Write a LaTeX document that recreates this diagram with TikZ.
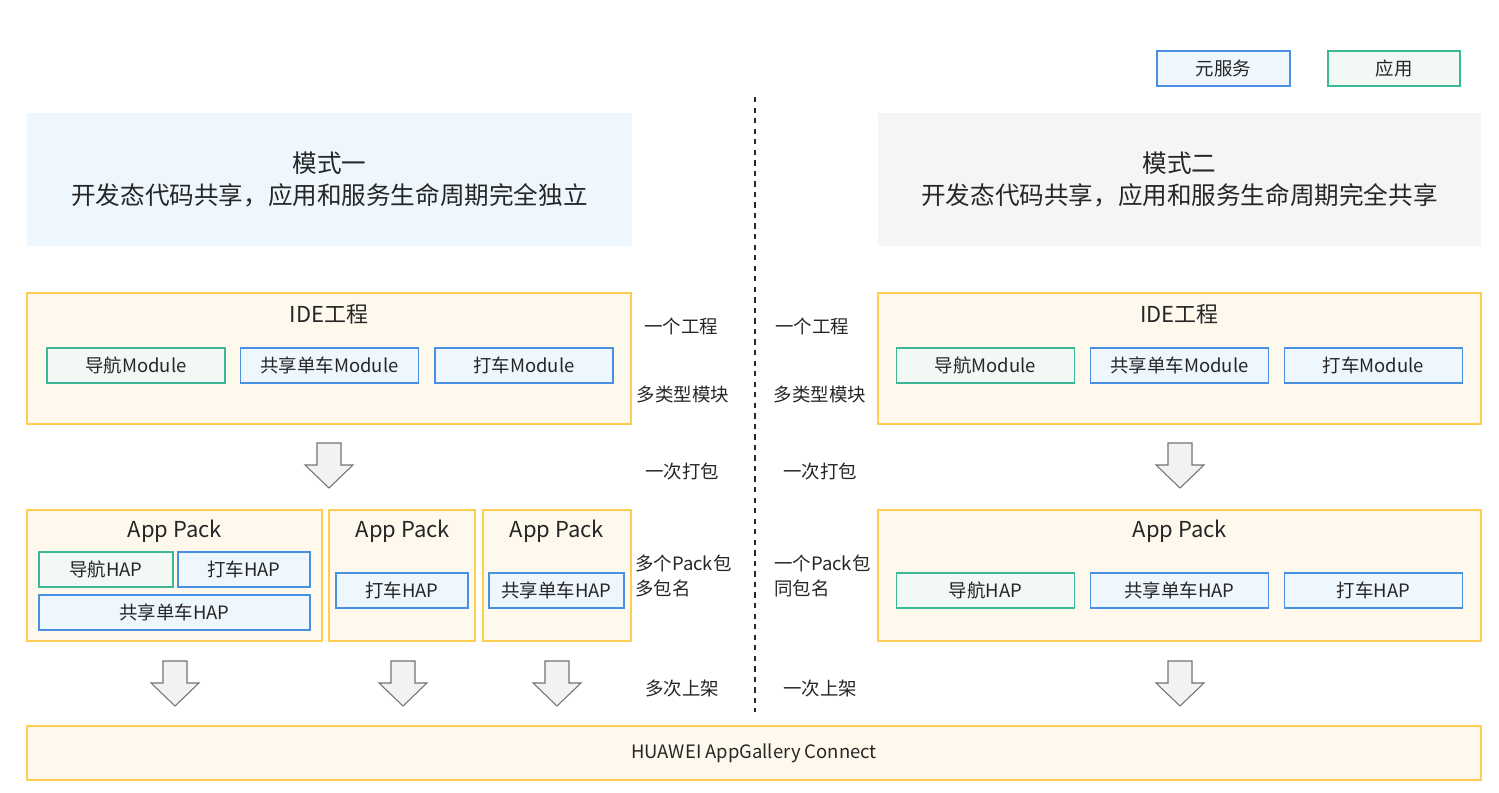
\documentclass[tikz,border=0pt]{standalone}
\usepackage{fontspec}
\setmainfont{Noto Sans CJK SC}
\usetikzlibrary{positioning, calc}
\definecolor{packline}{RGB}{255,206,80}
\definecolor{packfill}{RGB}{255,249,237}
\definecolor{svcline}{RGB}{74,144,226}
\definecolor{svcfill}{RGB}{239,247,254}
\definecolor{appline}{RGB}{60,184,150}
\definecolor{appfill}{RGB}{242,249,245}
\definecolor{headblue}{RGB}{238,247,253}
\definecolor{headgray}{RGB}{245,245,245}
\definecolor{txtgray}{RGB}{38,38,38}
\tikzset{
  every node/.style={text=txtgray},
  packbox/.style={draw=packline, fill=packfill, line width=0.9pt, minimum height=2.62cm, inner sep=0pt},
  svcbox/.style={draw=svcline, fill=svcfill, line width=0.8pt, minimum height=0.7cm, inner sep=0pt, font=\fontsize{10.5}{12}\selectfont},
  appbox/.style={draw=appline, fill=appfill, line width=0.8pt, minimum height=0.7cm, inner sep=0pt, font=\fontsize{10.5}{12}\selectfont},
  headbox/.style={minimum height=2.66cm, inner sep=0pt, align=center, font=\fontsize{14}{18}\selectfont},
  boxtitle/.style={font=\fontsize{12.5}{14}\selectfont},
  sidenote/.style={font=\fontsize{10.5}{14}\selectfont, align=left},
  fatarrow/.pic={
    \draw[draw=black!55, fill=black!5, line width=0.6pt]
      (-12,0) -- (-12,22) -- (-24,22) -- (0,45) -- (24,22) -- (12,22) -- (12,0) -- cycle;
  }
}

\begin{document}
\begin{tikzpicture}[x=0.02cm, y=-0.02cm]
    \useasboundingbox (0,0) rectangle (1499,793);

    % legend
    \node[svcbox, minimum width=2.66cm] (legsvc) at (1223.5,68.5) {元服务};
    \node[appbox, minimum width=2.64cm] (legapp) at (1394,68.5) {应用};

    % divider
    \draw[dashed, line width=0.7pt, black!85] (755,97) -- (755,712);

    % headers
    \node[headbox, fill=headblue, minimum width=12.1cm] (headL) at (329.5,179.5) {模式一\\开发态代码共享，应用和服务生命周期完全独立};
    \node[headbox, fill=headgray, minimum width=12.06cm] (headR) at (1179.5,179.5) {模式二\\开发态代码共享，应用和服务生命周期完全共享};

    % IDE projects
    \node[packbox, minimum width=12.08cm] (ideL) at (329,358.5) {};
    \node[boxtitle] (ideLt) at (329,314) {IDE工程};
    \node[appbox, minimum width=3.56cm] (navL) at (136,365.5) {导航Module};
    \node[svcbox, minimum width=3.56cm] (bikeL) at (329.5,365.5) {共享单车Module};
    \node[svcbox, minimum width=3.56cm] (taxiL) at (524,365.5) {打车Module};

    \node[packbox, minimum width=12.06cm] (ideR) at (1179.5,358.5) {};
    \node[boxtitle] (ideRt) at (1179.5,314) {IDE工程};
    \node[appbox, minimum width=3.56cm] (navR) at (985.5,365.5) {导航Module};
    \node[svcbox, minimum width=3.56cm] (bikeR) at (1179.5,365.5) {共享单车Module};
    \node[svcbox, minimum width=3.56cm] (taxiR) at (1373.5,365.5) {打车Module};

    % app packs, mode one
    \node[packbox, minimum width=5.9cm] (packA) at (174.5,575.5) {};
    \node[boxtitle] (packAt) at (175,531) {App Pack};
    \node[appbox, minimum width=2.68cm] (hapNavA) at (106,569.5) {导航HAP};
    \node[svcbox, minimum width=2.64cm] (hapTaxiA) at (244,569.5) {打车HAP};
    \node[svcbox, minimum width=5.42cm] (hapBikeA) at (174.5,612.5) {共享单车HAP};

    \node[packbox, minimum width=2.92cm] (packB) at (402,575.5) {};
    \node[boxtitle] (packBt) at (403,531) {App Pack};
    \node[svcbox, minimum width=2.64cm] (hapTaxiB) at (402,590.5) {打车HAP};

    \node[packbox, minimum width=2.96cm] (packC) at (557,575.5) {};
    \node[boxtitle] (packCt) at (557,531) {App Pack};
    \node[svcbox, minimum width=2.7cm] (hapBikeC) at (556.5,590.5) {共享单车HAP};

    % app pack, mode two
    \node[packbox, minimum width=12.06cm] (packR) at (1179.5,575.5) {};
    \node[boxtitle] (packRt) at (1180,531) {App Pack};
    \node[appbox, minimum width=3.56cm] (hapNavR) at (985.5,590.5) {导航HAP};
    \node[svcbox, minimum width=3.56cm] (hapBikeR) at (1179.5,590.5) {共享单车HAP};
    \node[svcbox, minimum width=3.56cm] (hapTaxiR) at (1373.5,590.5) {打车HAP};

    % store
    \node[draw=packline, fill=packfill, line width=0.9pt, minimum width=29.08cm, minimum height=1.08cm,
          font=\fontsize{10.5}{12}\selectfont] (agc) at (754,753) {HUAWEI AppGallery Connect};

    % arrows
    \pic at (329,443) {fatarrow};
    \pic at (1180,443) {fatarrow};
    \pic at (175,661) {fatarrow};
    \pic at (403,661) {fatarrow};
    \pic at (557,661) {fatarrow};
    \pic at (1180,661) {fatarrow};

    % notes
    \node[sidenote] (n1L) at (681,326) {一个工程};
    \node[sidenote] (n2L) at (683,394) {多类型模块};
    \node[sidenote] (n3L) at (682,471) {一次打包};
    \node[sidenote, anchor=west, inner sep=0pt] (n4L) at (635,576) {多个Pack包\\多包名};
    \node[sidenote] (n5L) at (682,689) {多次上架};

    \node[sidenote] (n1R) at (812,326) {一个工程};
    \node[sidenote] (n2R) at (820,394) {多类型模块};
    \node[sidenote] (n3R) at (820,471) {一次打包};
    \node[sidenote, anchor=west, inner sep=0pt] (n4R) at (774,576) {一个Pack包\\同包名};
    \node[sidenote] (n5R) at (820,689) {一次上架};
\end{tikzpicture}
\end{document}
